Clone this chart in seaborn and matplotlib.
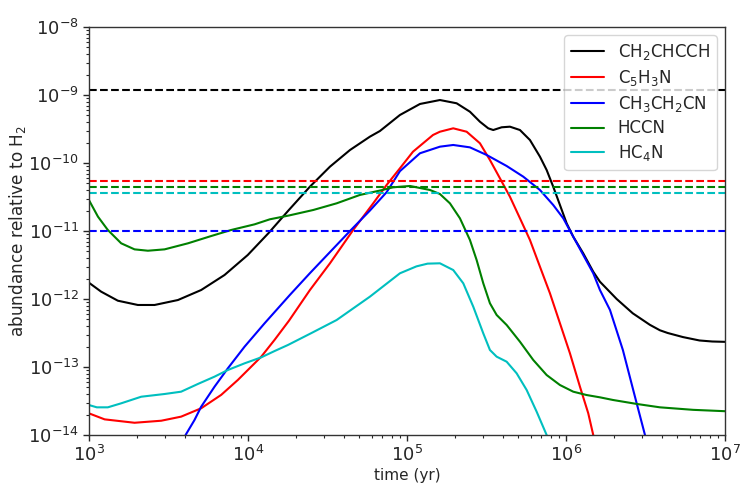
import numpy as np
import pandas as pd
import matplotlib
matplotlib.use("Agg")
import matplotlib.pyplot as plt
import seaborn as sns

# log10(time/yr) and log10(abundance)
bl_x = [3.0, 3.077, 3.182, 3.308, 3.413, 3.560, 3.706, 3.853, 3.999, 4.13, 4.258, 4.390, 4.516, 4.642, 4.767, 4.83, 4.956,
        5.082, 5.2075, 5.3126, 5.3962, 5.4591, 5.5113, 5.5428, 5.5956, 5.6478, 5.7107, 5.7736, 5.8365, 5.8786, 5.9201,
        5.9623, 6.0044, 6.0459, 6.1088, 6.1717, 6.2138, 6.319, 6.42, 6.528, 6.591, 6.64, 6.736, 6.84, 6.92, 7.0]
bl_y = [-11.76, -11.892, -12.025, -12.088, -12.088, -12.015, -11.868, -11.647, -11.353, -11.03, -10.69, -10.348, -10.054,
        -9.809, -9.613, -9.53, -9.294, -9.132, -9.074, -9.122, -9.246, -9.393, -9.49, -9.515, -9.475, -9.466, -9.515,
        -9.662, -9.907, -10.103, -10.349, -10.618, -10.887, -11.084, -11.329, -11.599, -11.746, -12.0, -12.21, -12.38,
        -12.46, -12.50, -12.56, -12.61, -12.625, -12.63]

rd_x = [3.0, 3.099, 3.287, 3.455, 3.58, 3.706, 3.832, 3.937, 4.084, 4.168, 4.258, 4.39, 4.516, 4.662, 4.788, 4.872, 4.956,
        5.038, 5.164, 5.2075, 5.2912, 5.3755, 5.4591, 5.522, 5.5849, 5.6478, 5.7107, 5.7736, 5.8365, 5.8994, 5.9623,
        6.0252, 6.0881, 6.1403, 6.1717, 6.21]
rd_y = [-13.681, -13.77, -13.82, -13.79, -13.73, -13.607, -13.41, -13.19, -12.848, -12.6, -12.32, -11.868, -11.475,
        -10.985, -10.593, -10.324, -10.078, -9.834, -9.588, -9.54, -9.49, -9.54, -9.71, -9.956, -10.225, -10.496,
        -10.813, -11.132, -11.525, -11.916, -12.357, -12.799, -13.29, -13.681, -14.0, -14.3]

bu_x = [3.58, 3.608, 3.664, 3.706, 3.79, 3.874, 3.979, 4.105, 4.264, 4.39, 4.516, 4.642, 4.767, 4.872, 4.956, 5.082,
        5.2075, 5.2912, 5.3962, 5.5013, 5.6271, 5.7316, 5.8365, 5.9201, 5.9831, 6.0459, 6.1088, 6.1717, 6.2138, 6.277,
        6.358, 6.434, 6.497, 6.52]
bu_y = [-14.4, -14.0, -13.78, -13.584, -13.29, -13.019, -12.701, -12.357, -11.94, -11.62, -11.31, -11.00, -10.70,
        -10.43, -10.12, -9.857, -9.76, -9.735, -9.77, -9.882, -10.044, -10.201, -10.397, -10.618, -10.813, -11.084,
        -11.353, -11.622, -11.868, -12.162, -12.75, -13.437, -14.0, -14.3]

gr_x = [3.0, 3.057, 3.119, 3.203, 3.287, 3.371, 3.476, 3.623, 3.769, 3.895, 4.042, 4.138, 4.258, 4.411, 4.558, 4.704,
        4.84, 4.912, 5.019, 5.145, 5.2075, 5.2704, 5.3333, 5.3962, 5.4382, 5.4801, 5.522, 5.5642, 5.6271, 5.7107, 5.7945,
        5.8786, 5.9623, 6.0459, 6.1296, 6.2138, 6.296, 6.447, 6.591, 6.8, 7.0]
gr_y = [-10.544, -10.789, -10.985, -11.181, -11.27, -11.29, -11.27, -11.181, -11.074, -10.985, -10.902, -10.828, -10.772,
        -10.691, -10.593, -10.47, -10.40, -10.358, -10.338, -10.397, -10.456, -10.593, -10.813, -11.132, -11.426,
        -11.769, -12.063, -12.235, -12.382, -12.628, -12.897, -13.118, -13.265, -13.363, -13.412, -13.446, -13.485,
        -13.544, -13.593, -13.63, -13.65]

cy_x = [3.0, 3.05, 3.119, 3.203, 3.329, 3.476, 3.58, 3.685, 3.79, 3.874, 3.979, 4.084, 4.168, 4.252, 4.40, 4.558, 4.767,
        4.956, 5.06, 5.13, 5.2075, 5.2912, 5.3543, 5.4171, 5.4801, 5.522, 5.5642, 5.6271, 5.69, 5.7529, 5.8157, 5.8786,
        5.92]
cy_y = [-13.559, -13.593, -13.593, -13.534, -13.437, -13.397, -13.363, -13.25, -13.142, -13.044, -12.946, -12.858,
        -12.765, -12.676, -12.50, -12.309, -11.966, -11.622, -11.52, -11.48, -11.475, -11.574, -11.769, -12.113,
        -12.505, -12.75, -12.848, -12.922, -13.093, -13.338, -13.657, -14.0, -14.3]

names = ["CH$_2$CHCCH", "C$_5$H$_3$N", "CH$_3$CH$_2$CN", "HCCN", "HC$_4$N"]
colors = ["black", "red", "blue", "green", "c"]
obs = [1.2e-9, 5.5e-11, 1.0e-11, 4.4e-11, 3.6e-11]

series = [(bl_x, bl_y), (rd_x, rd_y), (bu_x, bu_y), (gr_x, gr_y), (cy_x, cy_y)]
frames = []
for n, (xs, ys) in zip(names, series):
    frames.append(pd.DataFrame({"time": 10.0 ** np.array(xs),
                                "abund": 10.0 ** np.array(ys),
                                "species": n}))
df = pd.concat(frames, ignore_index=True)

sns.set_style("ticks")
plt.rcParams["font.family"] = ["DejaVu Sans"]
plt.rcParams["mathtext.default"] = "regular"

fig = plt.figure(figsize=(7.47, 4.98), dpi=100)
ax = fig.add_axes([0.119, 0.1265, 0.8515, 0.8193])
sns.lineplot(data=df, x="time", y="abund", hue="species", hue_order=names,
             palette=dict(zip(names, colors)), sort=False, estimator=None,
             linewidth=1.5, ax=ax)
for c, v in zip(colors, obs):
    ax.axhline(v, color=c, linestyle="--", linewidth=1.5)

ax.set_xscale("log")
ax.set_yscale("log")
ax.set_xlim(1e3, 1e7)
ax.set_ylim(1e-14, 1e-8)
ax.set_xlabel("time (yr)", fontsize=11, labelpad=2)
ax.set_ylabel("abundance relative to H$_2$", fontsize=12.2)
ax.yaxis.set_label_coords(-0.096, 0.5)
ax.tick_params(axis="both", which="major", labelsize=13, direction="out", length=4, width=1, pad=3)
ax.tick_params(axis="both", which="minor", direction="out", length=2, width=0.8)
for s in ax.spines.values():
    s.set_visible(True)
    s.set_linewidth(1.0)
    s.set_color("#333333")
leg = ax.legend(loc="upper right", fontsize=12, frameon=True, fancybox=True,
                labelspacing=0.35, borderaxespad=0.5)
leg.get_frame().set_edgecolor("#cccccc")
fig.savefig("out.png", dpi=100)
